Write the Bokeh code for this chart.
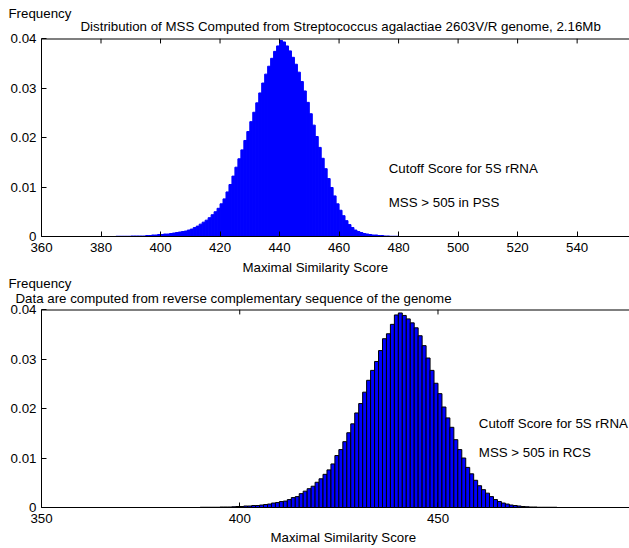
from bokeh.plotting import figure
from bokeh.models import Label, Span, FixedTicker, Range1d
from bokeh.layouts import column
from bokeh.embed import file_html
from bokeh.resources import INLINE

FONT = "Liberation Sans"
FSIZE = "13.3px"

# ---------------- data ----------------
# top panel: histogram of MSS (forward strand), bins of width 1, left edges 360..539
top_start = 360
top_freq = [
    0, 0, 0, 0, 0, 0, 0, 0, 0, 0,                      # 360-369
    0, 0, 0, 0, 0, 0, 0, 0, 0, 0,                      # 370-379
    0, 0, 0, 0, 0, 0.00005, 0.00005, 0.00005, 0.00005, 0.00005,  # 380-389
    0.0001, 0.0001, 0.0001, 0.0001, 0.0001, 0.0002, 0.0002, 0.0003, 0.0003, 0.0004,  # 390-399
    0.0004, 0.0005, 0.0005, 0.0006, 0.0007, 0.0008, 0.0009, 0.0010, 0.0011, 0.0013,  # 400-409
    0.0015, 0.0018, 0.0021, 0.0025, 0.0029, 0.0033, 0.0038, 0.0044, 0.0050, 0.0057,  # 410-419
    0.0066, 0.0076, 0.0090, 0.0105, 0.0122, 0.0140, 0.0157, 0.0175, 0.0194, 0.0212,  # 420-429
    0.0232, 0.0251, 0.0270, 0.0290, 0.0310, 0.0328, 0.0344, 0.0360, 0.0374, 0.0385,  # 430-439
    0.0396, 0.0393, 0.0385, 0.0375, 0.0362, 0.0348, 0.0332, 0.0313, 0.0294, 0.0271,  # 440-449
    0.0248, 0.0225, 0.0202, 0.0180, 0.0158, 0.0137, 0.0117, 0.0099, 0.0082, 0.0066,  # 450-459
    0.0053, 0.0042, 0.0032, 0.0024, 0.0018, 0.0013, 0.0010, 0.0008, 0.0006, 0.0005,  # 460-469
    0.0004, 0.0003, 0.0003, 0.0002, 0.0002, 0.0001, 0.0001, 0.00005, 0.00005, 0.00005,  # 470-479
    0, 0, 0, 0, 0, 0, 0, 0, 0, 0,                      # 480-489
    0, 0, 0, 0, 0, 0, 0, 0, 0, 0,                      # 490-499
    0, 0, 0, 0, 0, 0, 0, 0, 0, 0,                      # 500-509
    0, 0, 0, 0, 0, 0, 0, 0, 0, 0,                      # 510-519
    0, 0, 0, 0, 0, 0, 0, 0, 0, 0,                      # 520-529
    0, 0, 0, 0, 0, 0, 0, 0, 0, 0,                      # 530-539
]

# bottom panel: histogram of MSS (reverse complementary), left edges 350..499
bot_start = 350
bot_freq = [
    0, 0, 0, 0, 0, 0, 0, 0, 0, 0,                      # 350-359
    0, 0, 0, 0, 0, 0, 0, 0, 0, 0,                      # 360-369
    0, 0, 0, 0, 0, 0, 0, 0, 0, 0,                      # 370-379
    0, 0, 0, 0, 0, 0, 0, 0, 0, 0,                      # 380-389
    0.00005, 0.00005, 0.00005, 0.00005, 0.00005, 0.0001, 0.0001, 0.0001, 0.00015, 0.0002,  # 390-399
    0.0002, 0.0003, 0.0003, 0.0004, 0.0004, 0.0005, 0.0006, 0.0007, 0.0009, 0.0010,  # 400-409
    0.0012, 0.0013, 0.0016, 0.0020, 0.0022, 0.0028, 0.0033, 0.0038, 0.0043, 0.0051,  # 410-419
    0.0058, 0.0067, 0.0076, 0.0088, 0.0105, 0.0117, 0.0133, 0.0151, 0.0169, 0.0191,  # 420-429
    0.0210, 0.0233, 0.0257, 0.0277, 0.0295, 0.0317, 0.0341, 0.0351, 0.0370, 0.0389,  # 430-439
    0.0393, 0.0388, 0.0381, 0.0373, 0.0363, 0.0347, 0.0327, 0.0302, 0.0277, 0.0251,  # 440-449
    0.0230, 0.0203, 0.0181, 0.0162, 0.0137, 0.0117, 0.0100, 0.0081, 0.0068, 0.0055,  # 450-459
    0.0044, 0.0036, 0.0029, 0.0022, 0.0016, 0.0012, 0.0009, 0.0007, 0.0005, 0.0004,  # 460-469
    0.0003, 0.0002, 0.00015, 0.0001, 0.0001, 0.00005, 0.00005, 0.00005, 0.00005, 0.00005,  # 470-479
    0, 0, 0, 0, 0, 0, 0, 0, 0, 0,                      # 480-489
    0, 0, 0, 0, 0, 0, 0, 0, 0, 0,                      # 490-499
]

top_xticks = [360, 380, 400, 420, 440, 460, 480, 500, 520, 540, 560]
bot_xticks = [350, 400, 450, 500]
yticks = [0, 0.01, 0.02, 0.03, 0.04]
ytick_labels = ["0", "0.01", "0.02", "0.03", "0.04"]

top_title = "Distribution of MSS Computed from Streptococcus agalactiae 2603V/R genome, 2.16Mb"
bot_title = "Data are computed from reverse complementary sequence of the genome"
ylabel = "Frequency"
xlabel = "Maximal Similarity Score"
note1 = "Cutoff Score for 5S rRNA"
top_note2 = "MSS > 505 in PSS"
bot_note2 = "MSS > 505 in RCS"

Y_MAX = 0.04
TICK_LEN = 0.001  # inward tick length on the top edge, in data units (~5 px)


def style_axis(ax, ticks, labels=None, standoff=5):
    ax.ticker = FixedTicker(ticks=ticks)
    ax.major_tick_in = 5
    ax.major_tick_out = 0
    ax.minor_tick_line_color = None
    ax.axis_line_color = "black"
    ax.axis_line_width = 1
    ax.major_tick_line_color = "black"
    ax.major_label_text_font = FONT
    ax.major_label_text_font_size = FSIZE
    ax.major_label_text_color = "black"
    ax.major_label_standoff = standoff
    if labels is not None:
        ax.major_label_overrides = {t: l for t, l in zip(ticks, labels)}


def add_text(p, x, y, text):
    p.add_layout(Label(x=x, y=y, text=text, text_font=FONT, text_font_size=FSIZE,
                       text_color="black", text_align="left", text_baseline="middle"))


def add_panel_text(p, sx, sy, text, side):
    # a label that lives in a side panel, in pixels from that panel's lower-left corner
    p.add_layout(Label(x=sx, y=sy, x_units="screen", y_units="screen", text=text,
                       text_font=FONT, text_font_size=FSIZE, text_color="black",
                       text_align="left", text_baseline="middle"), side)


def make_panel(start, freq, xr, xticks, height, top_border, bottom_border, fill, edge):
    p = figure(width=629, height=height, output_backend="svg", toolbar_location=None,
               x_range=Range1d(*xr), y_range=Range1d(0, Y_MAX),
               min_border_left=41, min_border_right=0,
               min_border_top=top_border, min_border_bottom=bottom_border)
    left = [start + i for i in range(len(freq))]
    right = [v + 1 for v in left]
    p.quad(left=left, right=right, bottom=0, top=freq, fill_color=fill,
           line_color=edge, line_width=1)
    # top edge of the axes box with inward ticks
    p.add_layout(Span(location=Y_MAX, dimension="width", line_color="black", line_width=2))
    p.segment(x0=xticks, x1=xticks, y0=[Y_MAX] * len(xticks),
              y1=[Y_MAX - TICK_LEN] * len(xticks), line_color="black", line_width=1)
    p.xgrid.visible = False
    p.ygrid.visible = False
    p.outline_line_color = None
    p.background_fill_color = "white"
    p.border_fill_color = "white"
    style_axis(p.xaxis[0], xticks, standoff=6)
    style_axis(p.yaxis[0], yticks, ytick_labels, standoff=5)
    return p


# ---------------- top panel ----------------
p1 = make_panel(top_start, top_freq, (360, 557.6), top_xticks, 275, 38, 39, "#0000ff", "#0000ff")
add_panel_text(p1, 39, 12, top_title, "above")
add_panel_text(p1, -33, 10, ylabel, "above")
add_panel_text(p1, 201, 2, xlabel, "below")
add_text(p1, 476.7, 0.01374, note1)
add_text(p1, 476.7, 0.00693, top_note2)

# ---------------- bottom panel ----------------
p2 = make_panel(bot_start, bot_freq, (350, 498.3), bot_xticks, 273, 34, 41, "#0000ff", "black")
add_panel_text(p2, -26, 11, bot_title, "above")
add_panel_text(p2, -33, 11, ylabel, "above")
add_panel_text(p2, 229, 3, xlabel, "below")
add_text(p2, 460.3, 0.0169, note1)
add_text(p2, 460.3, 0.01117, bot_note2)

layout = column(p1, p2, spacing=0)
open("out.html", "w").write(file_html(layout, INLINE))
